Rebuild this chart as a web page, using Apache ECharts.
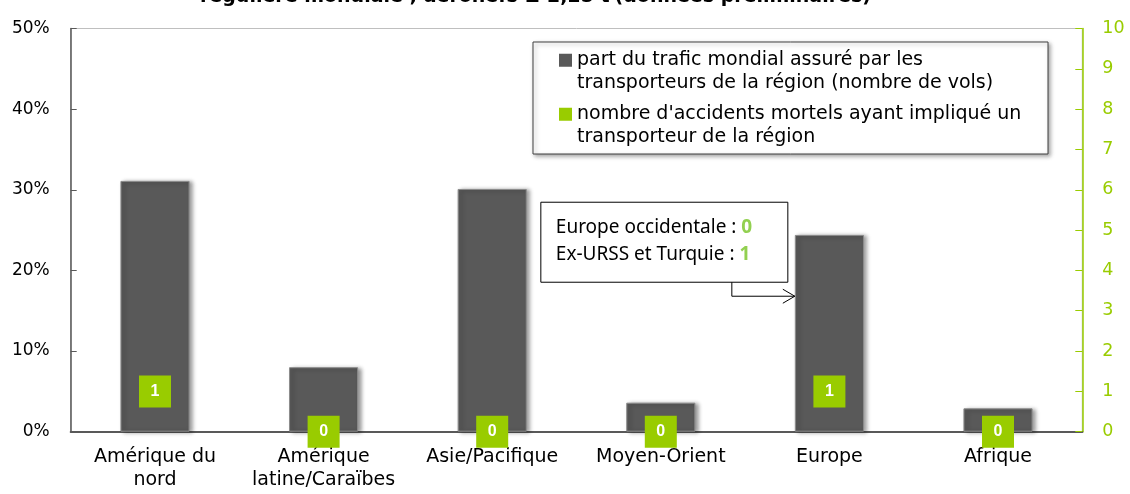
<!DOCTYPE html>
<html>
<head>
<meta charset="utf-8">
<script src="https://cdn.jsdelivr.net/npm/echarts@6/dist/echarts.min.js"></script>
<style>
  html, body { margin: 0; padding: 0; background: #fff; }
  #chart { width: 1130px; height: 494px; }
</style>
</head>
<body>
<div id="chart"></div>
<script>
// données
const regions = ['Amérique du\nnord', 'Amérique\nlatine/Caraïbes', 'Asie/Pacifique', 'Moyen-Orient', 'Europe', 'Afrique'];
const trafficShare = [31.1, 8.0, 30.1, 3.6, 24.4, 2.9];   // % des vols
const fatalAccidents = [1, 0, 0, 0, 1, 0];
const seriesNames = [
  'part du trafic mondial assuré par les\ntransporteurs de la région (nombre de vols)',
  "nombre d'accidents mortels ayant impliqué un\ntransporteur de la région"
];
const europeDetail = [['Europe occidentale', 0], ['Ex-URSS et Turquie', 1]];

const FONT = '"DejaVu Sans", Tahoma, sans-serif';
const GREY = '#595959';
const GREEN = '#99cc00';

const chart = echarts.init(document.getElementById('chart'));

// icône de légende : carré aligné sur la première ligne du texte
const legendIcon = 'path://M0,0h0.01v0.01h-0.01z M0,4.75h13v13h-13z M0,45h0.01v-0.01h-0.01z';

chart.setOption({
  animation: false,
  backgroundColor: '#fff',
  title: {
    left: 195, top: -17,
    text: '{b|régulière mondiale ; aéronefs ≥ 2,25 t} {n|(données préliminaires)}',
    textStyle: {
      rich: {
        b: { fontFamily: FONT, fontWeight: 'bold', fontSize: 19, color: '#000' },
        n: { fontFamily: FONT, fontSize: 19, color: '#000' }
      }
    }
  },
  grid: { left: 70.7, right: 47.7, top: 28.5, bottom: 62.3, show: true, borderColor: '#bfbfbf', borderWidth: 1 },
  legend: {
    orient: 'vertical', left: 533, top: 42,
    padding: [7, 10, 6, 26],
    itemWidth: 13, itemHeight: 45, itemGap: 9,
    backgroundColor: '#fff', borderColor: '#404040', borderWidth: 1,
    shadowColor: 'rgba(0,0,0,0.35)', shadowBlur: 4, shadowOffsetX: 2, shadowOffsetY: 2,
    textStyle: { fontFamily: FONT, fontSize: 19, lineHeight: 22.5, color: '#000', width: 461 },
    data: [
      { name: seriesNames[0], icon: legendIcon, itemStyle: { shadowBlur: 0, borderWidth: 0 } },
      { name: seriesNames[1], icon: legendIcon, itemStyle: { shadowBlur: 0, borderWidth: 0 } }
    ]
  },
  xAxis: {
    type: 'category', data: regions,
    axisLine: { lineStyle: { color: GREY, width: 2 } },
    axisTick: { inside: true, length: 5, lineStyle: { color: GREY } },
    axisLabel: { color: '#000', fontFamily: FONT, fontSize: 19, lineHeight: 23, margin: 14, interval: 0 }
  },
  yAxis: [
    {
      type: 'value', min: 0, max: 50, interval: 10,
      axisLine: { show: true, lineStyle: { color: GREY, width: 1.5 } },
      axisTick: { show: true, inside: true, length: 6, lineStyle: { color: GREY } },
      splitLine: { show: false },
      axisLabel: { formatter: '{value}%', color: '#000', fontFamily: FONT, fontSize: 17, margin: 21 }
    },
    {
      type: 'value', min: 0, max: 10, interval: 1, position: 'right',
      axisLine: { show: true, lineStyle: { color: GREEN, width: 1.5 } },
      axisTick: { show: true, inside: true, length: 7, lineStyle: { color: GREEN } },
      splitLine: { show: false },
      axisLabel: { color: GREEN, fontFamily: FONT, fontSize: 17.5, margin: 20 }
    }
  ],
  series: [
    {
      name: seriesNames[0], type: 'bar', data: trafficShare, barWidth: '41%',
      itemStyle: {
        color: GREY, borderColor: '#8c8c8c', borderWidth: 1,
        shadowColor: 'rgba(0,0,0,0.4)', shadowBlur: 4, shadowOffsetX: 3, shadowOffsetY: 1
      }
    },
    {
      name: seriesNames[1], type: 'scatter', yAxisIndex: 1, data: fatalAccidents,
      symbol: 'rect', symbolSize: 32, z: 5,
      itemStyle: { color: GREEN, opacity: 1 },
      label: {
        show: true, position: 'inside', formatter: '{c}',
        color: '#fff', fontWeight: 'bold', fontSize: 16, fontFamily: '"Liberation Sans", Arial'
      }
    }
  ]
});

// encadré Europe, placé par rapport à la barre Europe
const europeIdx = regions.indexOf('Europe');
const [ex, ey] = chart.convertToPixel({ seriesIndex: 0 }, [europeIdx, 16.8]);
const barHalf = chart.getModel().getSeriesByIndex(0).getData().getLayout('size') / 2 || 34.5;
const tipX = ex - barHalf;
const boxR = tipX - 7, boxL = boxR - 247, boxT = ey - 94, boxB = ey - 14;
const elbowX = boxR - 56;

chart.setOption({
  graphic: [
    { type: 'rect', shape: { x: boxL, y: boxT, width: boxR - boxL, height: boxB - boxT },
      style: { fill: '#fff', stroke: '#000', lineWidth: 1 }, z: 10 },
    { type: 'text', x: boxL + 15, y: boxT + 12, z: 11,
      style: {
        text: europeDetail.map(d => '{t|' + d[0] + ' : }{g|' + d[1] + '}').join('\n'),
        rich: {
          t: { fontFamily: '"Noto Sans", sans-serif', fontSize: 19, lineHeight: 27, fill: '#000' },
          g: { fontFamily: '"Noto Sans", sans-serif', fontSize: 19, lineHeight: 27, fill: '#92d050', fontWeight: 'bold' }
        }
      } },
    { type: 'polyline', z: 10, shape: { points: [[elbowX, boxB], [elbowX, ey], [tipX, ey]] },
      style: { stroke: '#000', lineWidth: 1, fill: null } },
    { type: 'polyline', z: 10, shape: { points: [[tipX - 12, ey - 7], [tipX, ey], [tipX - 12, ey + 7]] },
      style: { stroke: '#000', lineWidth: 1, fill: null } }
  ]
});

window.addEventListener('resize', () => chart.resize());
</script>
</body>
</html>
